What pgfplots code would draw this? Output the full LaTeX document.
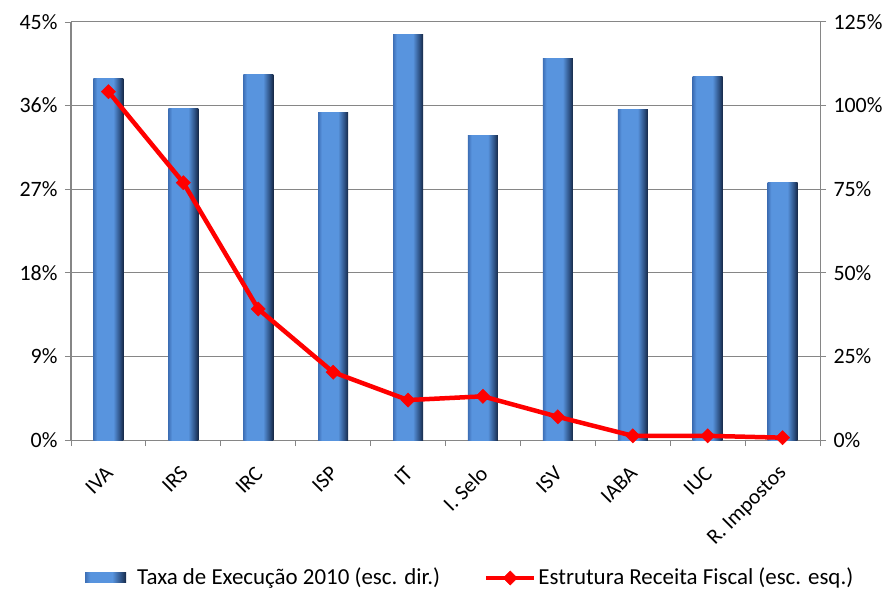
\documentclass[border=0pt]{standalone}
\usepackage{pgfplots}
\pgfplotsset{compat=1.18}
\usepackage{fontspec}
\setmainfont{Carlito}

\definecolor{barL}{RGB}{62,112,182}
\definecolor{barM}{RGB}{88,148,222}
\definecolor{barD}{RGB}{45,80,130}
\definecolor{barDD}{RGB}{22,40,70}
\definecolor{gridgray}{RGB}{134,134,134}
\pgfdeclarehorizontalshading{barshade}{100bp}{color(0bp)=(barL); color(25bp)=(barL); color(31bp)=(barM); color(58bp)=(barM); color(69bp)=(barD); color(75bp)=(barDD); color(100bp)=(barDD)}

\pgfplotsset{
  base/.style={
    scale only axis, width=749bp, height=418bp,
    xmin=-0.5, xmax=9.5, ymin=0,
    axis line style={gridgray, line width=1bp},
    tick style={gridgray, line width=1bp},
    tick align=outside,
    major tick length=6bp,
  },
  onebar/.style={draw=none, shading=barshade, bar shift=0pt},
  barlegend/.style={legend image code/.code={\path[draw=none] (0bp,0bp) -- (50bp,0bp); \path[draw=none, shading=barshade] (0bp,-5bp) rectangle (41bp,5bp);}},
  linelegend/.style={legend image code/.code={\path[draw=none] (0bp,0bp) -- (50bp,0bp); \draw[mark repeat=2,mark phase=2,##1] plot coordinates {(0bp,0bp)(24bp,0bp)(48bp,0bp)};}},
}

\begin{document}
\fontsize{22}{26}\selectfont
\begin{tikzpicture}
% bars, right scale
\begin{axis}[base,
  ymax=125,
  ytick={0,25,...,125}, yticklabels={0\%,25\%,50\%,75\%,100\%,125\%},
  ytick pos=right,
  ymajorgrids, grid style={gridgray, line width=1bp},
  xtick={-0.5,0.5,...,9.5},
  xticklabels={IVA,IRS,IRC,ISP,IT,I. Selo,ISV,IABA,IUC,R. Impostos},
  x tick label as interval,
  xtick pos=bottom,
  x tick label style={xshift=1bp, yshift=-24bp, rotate=45, anchor=east, inner sep=0pt,
    font=\fontsize{21.5}{26}\selectfont},
  ybar, bar width=30bp,
]
\addplot[onebar] coordinates {(0,108.0)};
\addplot[onebar] coordinates {(1,99.0)};
\addplot[onebar] coordinates {(2,109.4)};
\addplot[onebar] coordinates {(3,97.8)};
\addplot[onebar] coordinates {(4,121.3)};
\addplot[onebar] coordinates {(5,91.0)};
\addplot[onebar] coordinates {(6,114.1)};
\addplot[onebar] coordinates {(7,98.7)};
\addplot[onebar] coordinates {(8,108.6)};
\addplot[onebar] coordinates {(9,76.9)};
\coordinate (sw) at (rel axis cs:0,0);
\coordinate (ne) at (rel axis cs:1,1);
\end{axis}
% line, left scale
\begin{axis}[base,
  ymax=45,
  ytick={0,9,...,45}, yticklabels={0\%,9\%,18\%,27\%,36\%,45\%},
  axis y line*=left, axis x line=none, xtick=\empty,
  clip=false,
  legend style={at={(0.533,-0.33)}, anchor=center, draw=none, fill=none,
    legend columns=2, font=\fontsize{23}{27}\selectfont,
    /tikz/every even column/.append style={column sep=42bp}},
]
\addlegendimage{barlegend}
\addlegendentry{Taxa de Execução 2010 (esc. dir.)}
\addplot[red, line width=4.5bp, mark=square*, mark size=5bp,
  mark options={rotate=45, line width=0.5bp}, linelegend]
  coordinates {
  (0,37.5) (1,27.7) (2,14.1) (3,7.3) (4,4.3)
  (5,4.7) (6,2.5) (7,0.45) (8,0.45) (9,0.25)
};
\addlegendentry{Estrutura Receita Fiscal (esc. esq.)}
\end{axis}
\pgfresetboundingbox
\path[use as bounding box] ([shift={(-71bp,-150bp)}]sw) rectangle ([shift={(73bp,22bp)}]ne);
\end{tikzpicture}
\end{document}
